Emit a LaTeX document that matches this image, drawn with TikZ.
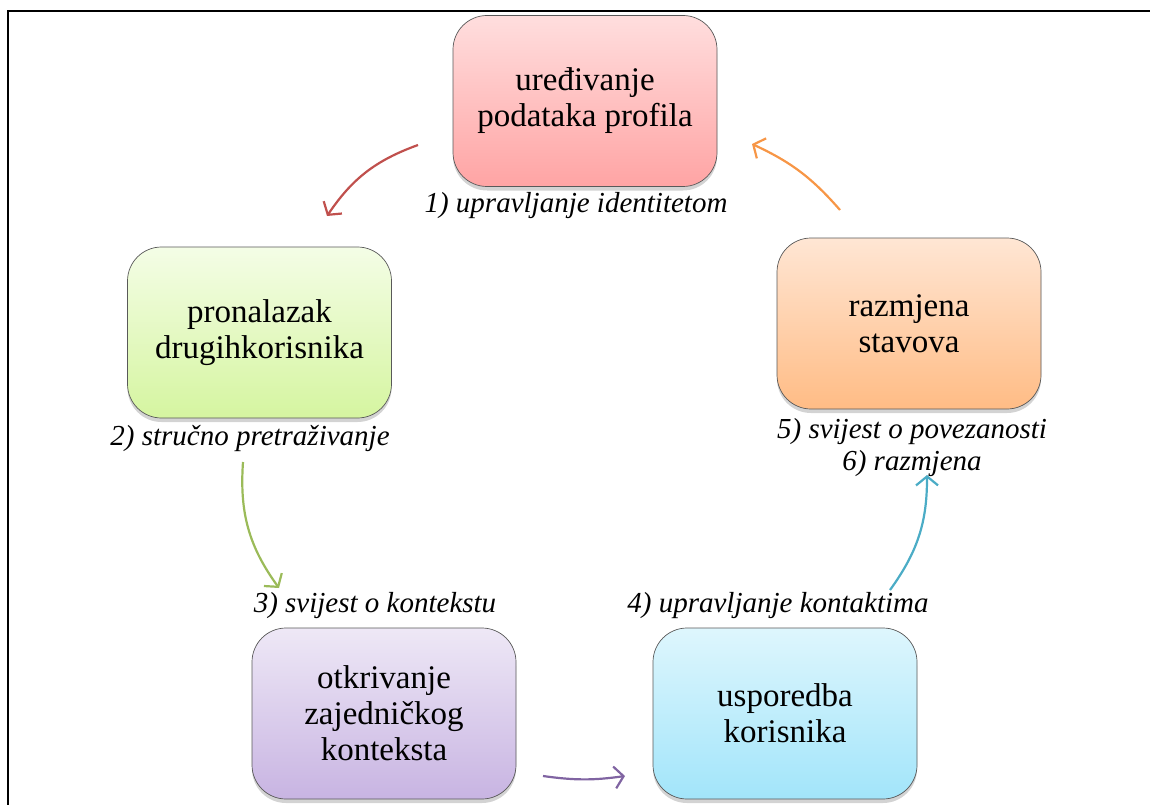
\documentclass[tikz,border=0pt]{standalone}
\usepackage{fontspec}
\setmainfont{Liberation Serif}
\usetikzlibrary{arrows.meta,shadows,positioning}

\definecolor{ofred}{HTML}{C0504D}
\definecolor{ofgreen}{HTML}{9BBB59}
\definecolor{ofpurple}{HTML}{8064A2}
\definecolor{ofblue}{HTML}{4BACC6}
\definecolor{oforange}{HTML}{F79646}

\tikzset{
  stage/.style={draw=black!65, line width=0.7pt, rounded corners=34pt,
    minimum width=264pt, minimum height=171pt, align=center,
    font=\fontsize{33}{36}\selectfont,
    drop shadow={opacity=0.35, shadow xshift=0pt, shadow yshift=-4pt}},
  lbl/.style={align=center, font=\fontsize{29}{32}\selectfont\itshape},
  cyc/.style={line width=2.2pt, -{Straight Barb[length=9pt,width=22pt,line width=2.2pt]}, bend right=#1},
}

\begin{document}
\begin{tikzpicture}[x=1pt,y=-1pt]
    \useasboundingbox (0,0) rectangle (1150,805);
    \draw[line width=1.4pt] (8,805) -- (8,11) -- (1150,11);

    % the five stages
    \node[stage, top color={rgb,255:red,255;green,222;blue,222}, bottom color={rgb,255:red,255;green,164;blue,164}] (uredivanje) at (585,101) {uređivanje\\podataka profila};
    \node[stage, top color={rgb,255:red,244;green,253;blue,230}, bottom color={rgb,255:red,213;green,245;blue,160}] (pronalazak) at (259.5,332.5) {pronalazak\\drugihkorisnika};
    \node[stage, top color={rgb,255:red,255;green,230;blue,212}, bottom color={rgb,255:red,255;green,188;blue,133}] (razmjena) at (909,323.5) {razmjena\\stavova};
    \node[stage, top color={rgb,255:red,238;green,232;blue,246}, bottom color={rgb,255:red,200;green,180;blue,226}] (otkrivanje) at (384,713.5) {otkrivanje\\zajedničkog\\konteksta};
    \node[stage, top color={rgb,255:red,222;green,246;blue,253}, bottom color={rgb,255:red,162;green,229;blue,250}] (usporedba) at (785,713.5) {usporedba\\korisnika};

    % labels
    \node[lbl] (l1) at (576,206) {1) upravljanje identitetom};
    \node[lbl] (l2) at (250,439) {2) stručno pretraživanje};
    \node[lbl] (l5) at (912,448) {5) svijest o povezanosti\\6) razmjena};
    \node[lbl] (l3) at (375,606) {3) svijest o kontekstu};
    \node[lbl] (l4) at (778,606) {4) upravljanje kontaktima};

    % arrow ends
    \coordinate (r0) at (418,145);  \coordinate (r1) at (327,216);
    \coordinate (g0) at (243,462);  \coordinate (g1) at (279,588);
    \coordinate (p0) at (543,776);  \coordinate (p1) at (625,776);
    \coordinate (b0) at (890,590);  \coordinate (b1) at (927,475);
    \coordinate (o0) at (840,210);  \coordinate (o1) at (752,144);

    \draw[cyc=18, ofred] (r0) to (r1);
    \draw[cyc=20, ofgreen] (g0) to (g1);
    \draw[cyc=8, ofpurple] (p0) to (p1);
    \draw[cyc=18, ofblue] (b0) to (b1);
    \draw[cyc=12, oforange] (o0) to (o1);
\end{tikzpicture}
\end{document}
